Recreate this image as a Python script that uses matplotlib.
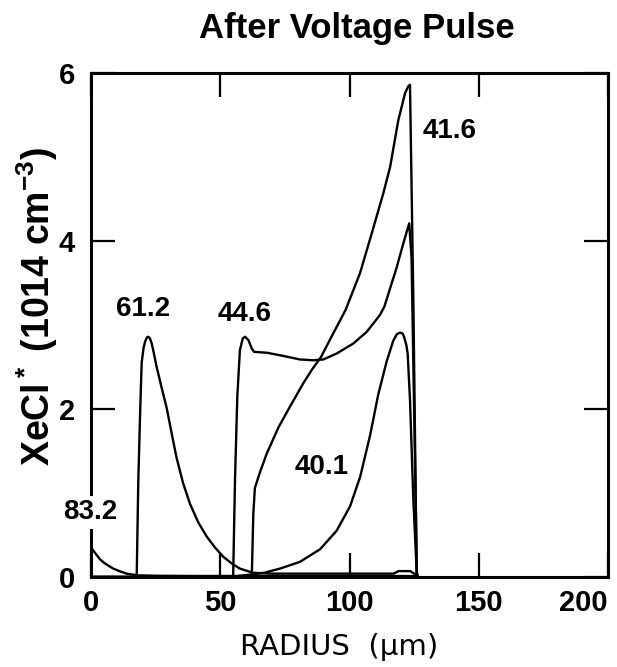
import numpy as np
import matplotlib
matplotlib.use("Agg")
import matplotlib.pyplot as plt

# XeCl* density profiles across the discharge radius, one per time after the pulse
r_832 = [0, 1, 2, 3.5, 5, 7, 8.6, 11, 13.8, 17.8, 25, 40, 60, 80, 100, 120, 125.5, 126.5]
n_832 = [0.35, 0.31, 0.27, 0.21, 0.17, 0.13, 0.10, 0.07, 0.04, 0.02, 0.015, 0.012,
         0.012, 0.012, 0.012, 0.012, 0.01, 0.0]

r_612 = [0, 17.5, 17.7, 18.3, 19.0, 19.6, 20.3, 20.9, 21.6, 22.2, 22.8, 23.5, 24.4,
         25.4, 27.2, 29.3, 31.2, 33.1, 35.6, 38.3, 41.5, 44.8, 48.0, 51.2, 54.5, 57.6,
         62.7, 70, 117, 119, 123.5, 125, 126.2]
n_612 = [0, 0, 0.05, 1.15, 1.95, 2.55, 2.72, 2.80, 2.85, 2.86, 2.84, 2.78, 2.65,
         2.50, 2.27, 2.01, 1.71, 1.42, 1.12, 0.87, 0.65, 0.48, 0.35, 0.24, 0.16, 0.10,
         0.05, 0.04, 0.04, 0.07, 0.07, 0.04, 0.0]

r_446 = [0, 54.8, 55.0, 55.7, 56.6, 57.6, 58.7, 59.6, 60.9, 62.2, 63.1, 68, 73.1,
         80.8, 86, 89.9, 95, 101.5, 106.7, 111.8, 113.5, 118.3, 120.8, 123.1, 124.0, 126.1]
n_446 = [0, 0, 0.02, 1.15, 2.15, 2.70, 2.84, 2.86, 2.82, 2.72, 2.68, 2.67, 2.64,
         2.59, 2.58, 2.59, 2.66, 2.78, 2.92, 3.12, 3.22, 3.69, 3.97, 4.21, 3.80, 0.0]

r_416 = [0, 62.2, 62.8, 63.4, 65.4, 68.0, 72.5, 77.0, 82.0, 85.5, 89.0, 93.7, 98.5,
         104.1, 108.6, 113.1, 115.7, 118.9, 121.5, 122.7, 123.4, 124.7, 126.0]
n_416 = [0, 0, 0.76, 1.06, 1.25, 1.47, 1.78, 2.03, 2.30, 2.47, 2.62, 2.90, 3.18,
         3.62, 4.09, 4.57, 4.88, 5.44, 5.76, 5.84, 5.86, 3.30, 0.0]

r_401 = [0, 55, 62, 67, 73.1, 80.8, 88.6, 95.0, 100.2, 104.1, 108, 111.1, 114.4,
         116.9, 118.3, 119.5, 120.5, 121.1, 122.0, 122.5, 123.4, 124.7, 126.0, 126.5]
n_401 = [0, 0.005, 0.03, 0.05, 0.10, 0.18, 0.33, 0.55, 0.84, 1.19, 1.69, 2.17, 2.57,
         2.81, 2.89, 2.91, 2.90, 2.86, 2.76, 2.66, 2.11, 0.92, 0.06, 0.0]

profiles = [(r_832, n_832), (r_612, n_612), (r_446, n_446), (r_416, n_416), (r_401, n_401)]

# time labels and where they sit
time_labels = ["83.2", "61.2", "44.6", "41.6", "40.1"]
label_x = [-0.3, 20.1, 59.6, 138.9, 89.4]
label_y = [0.77, 3.19, 3.13, 5.31, 1.31]

x_ticks = [0, 50, 100, 150, 200]
y_ticks = [0, 2, 4, 6]

plt.rcParams['font.family'] = ['Liberation Sans', 'DejaVu Sans']
plt.rcParams['font.weight'] = 'bold'
plt.rcParams['mathtext.fontset'] = 'custom'
plt.rcParams['mathtext.rm'] = 'Liberation Sans:bold'
plt.rcParams['mathtext.it'] = 'Liberation Sans:bold'
plt.rcParams['mathtext.bf'] = 'Liberation Sans:bold'
plt.rcParams['mathtext.default'] = 'regular'

fig = plt.figure(figsize=(6.17, 6.67), dpi=100)
ax = fig.add_axes([91 / 617, 1 - 577 / 667, 517 / 617, 504 / 667])

for r, n in profiles:
    ax.plot(r, n, color='black', lw=1.7, solid_joinstyle='round')

for txt, x, y in zip(time_labels, label_x, label_y):
    kw = {}
    if txt == "83.2":
        kw['bbox'] = dict(boxstyle='square,pad=0.12', fc='white', ec='none')
    ax.text(x, y, txt, ha='center', va='center', fontsize=20, fontweight='bold',
            zorder=5, clip_on=False, **kw)

ax.set_xlim(0, 200)
ax.set_ylim(0, 6)
ax.set_xticks(x_ticks)
ax.set_yticks(y_ticks)
ax.tick_params(direction='in', length=17, width=1.6, top=True, right=True,
               labelsize=21)
ax.tick_params(axis='x', pad=8.5)
ax.tick_params(axis='y', pad=11.5)
for s in ax.spines.values():
    s.set_linewidth(2.2)

# last radius label sits flush with the right frame
ax.get_xticklabels()[-1].set_ha('right')

ax.set_title("After Voltage Pulse", family='Liberation Sans', fontsize=25,
             fontweight='bold', y=1.069, va='baseline', pad=0)
ax.title.set_x(0.515)

ax.set_xlabel("RADIUS  (\u03bcm)", family='DejaVu Sans', fontweight='normal',
              fontsize=21, va='baseline')
ax.xaxis.set_label_coords(0.48, -0.155)

ax.set_ylabel(r'XeCl$^*$ (1014 cm$^{-3}$)', family='Liberation Sans', fontsize=27,
              fontweight='bold', va='center')
ax.yaxis.set_label_coords(-0.104, 0.536)

fig.savefig('out.png', dpi=100)
